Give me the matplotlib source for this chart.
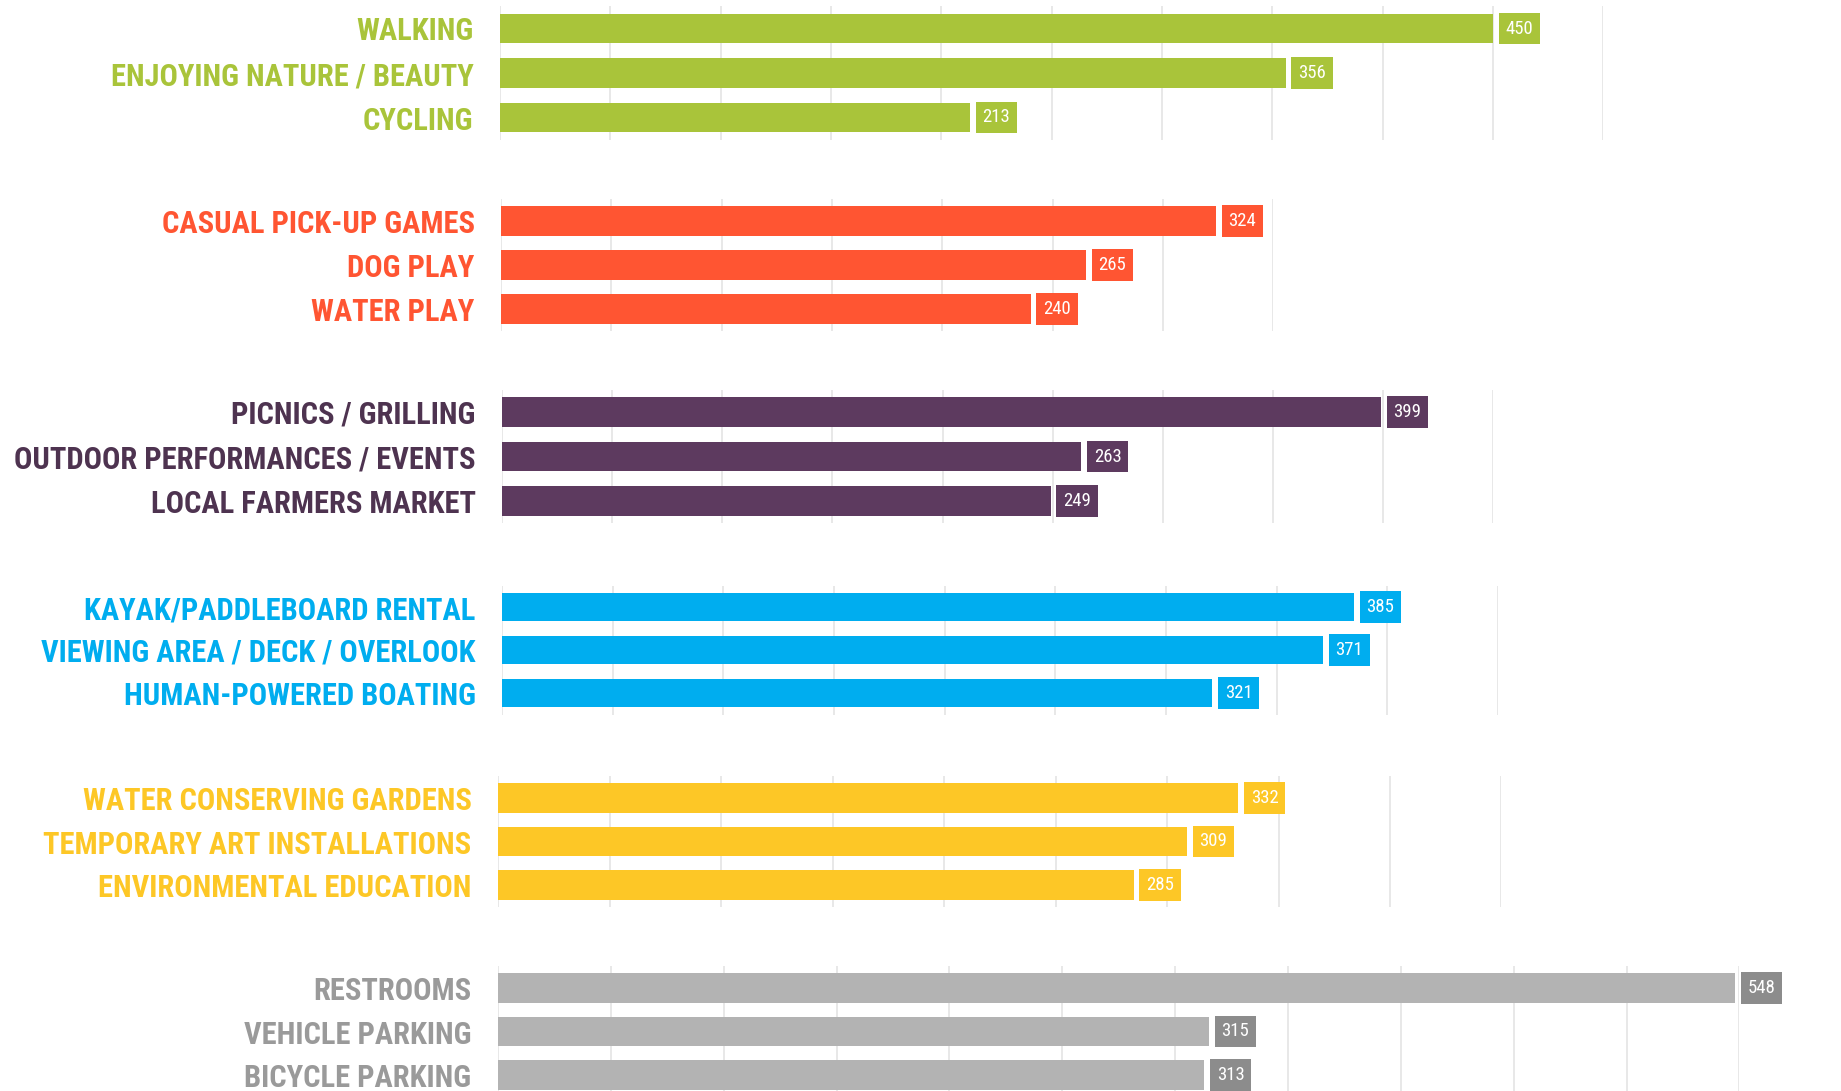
import numpy as np
import matplotlib
matplotlib.use("Agg")
import matplotlib.pyplot as plt
from matplotlib import font_manager

# survey answers, one list per group (top to bottom)
recreation_labels = ["WALKING", "ENJOYING NATURE / BEAUTY", "CYCLING"]
recreation_counts = [450, 356, 213]

play_labels = ["CASUAL PICK-UP GAMES", "DOG PLAY", "WATER PLAY"]
play_counts = [324, 265, 240]

social_labels = ["PICNICS / GRILLING", "OUTDOOR PERFORMANCES / EVENTS", "LOCAL FARMERS MARKET"]
social_counts = [399, 263, 249]

water_labels = ["KAYAK/PADDLEBOARD RENTAL", "VIEWING AREA / DECK / OVERLOOK", "HUMAN-POWERED BOATING"]
water_counts = [385, 371, 321]

culture_labels = ["WATER CONSERVING GARDENS", "TEMPORARY ART INSTALLATIONS", "ENVIRONMENTAL EDUCATION"]
culture_counts = [332, 309, 285]

amenity_labels = ["RESTROOMS", "VEHICLE PARKING", "BICYCLE PARKING"]
amenity_counts = [548, 315, 313]

group_labels = [recreation_labels, play_labels, social_labels, water_labels, culture_labels, amenity_labels]
group_counts = [recreation_counts, play_counts, social_counts, water_counts, culture_counts, amenity_counts]
grid_max = [500, 350, 450, 450, 450, 550]

# styling per group
bar_colors = ["#A9C43A", "#FF5532", "#5D3A5F", "#00ADEF", "#FDC726", "#B3B3B3"]
text_colors = ["#A9C43A", "#FF5532", "#4E3350", "#00ADEF", "#FDC726", "#9A9A9A"]
box_colors = ["#A9C43A", "#FF5532", "#5D3A5F", "#00ADEF", "#FDC726", "#8C8C8C"]

# layout in pixels (each group was its own little chart)
W, H = 1841, 1091
lefts = [500, 501, 502, 502, 498, 498]
px_per_unit = [2.207, 2.207, 2.203, 2.213, 2.23, 2.257]
first_center = [28.5, 221, 412, 607, 798, 988]
pitch = [44.5, 44, 44.5, 43, 43.5, 43.5]

# pick a narrow face if there is one
names = {f.name for f in font_manager.fontManager.ttflist}
font = "DejaVu Sans"
for cand in ["Roboto Condensed", "Open Sans Condensed", "Liberation Sans Narrow"]:
    if cand in names:
        font = cand
        break
plt.rcParams['font.family'] = [font, 'DejaVu Sans']
plt.rcParams['font.stretch'] = 'condensed'

fig = plt.figure(figsize=(W / 100, H / 100), dpi=100)
fig.patch.set_facecolor("white")

label_texts = []
for g in range(6):
    labels = group_labels[g]
    counts = group_counts[g]
    top = first_center[g] - pitch[g] / 2
    height = pitch[g] * 3
    width = grid_max[g] * px_per_unit[g]
    ax = fig.add_axes([lefts[g] / W, 1 - (top + height) / H, width / W, height / H])

    y = np.arange(len(labels))
    ax.barh(y, counts, height=0.67, color=bar_colors[g], zorder=2)
    ax.set_xlim(0, grid_max[g])
    ax.set_ylim(2.5, -0.5)

    # light vertical guides every 50
    ax.set_xticks(np.arange(0, grid_max[g] + 1, 50))
    ax.grid(axis='x', color="#E4E4E4", linewidth=1.2, zorder=0)
    ax.tick_params(axis='x', length=0, labelbottom=False)

    ax.set_yticks(y)
    ticklabels = ax.set_yticklabels(labels, fontsize=20, fontweight='bold', color=text_colors[g],
                                    va='center_baseline')
    label_texts.extend(ticklabels)
    ax.tick_params(axis='y', length=0, pad=19)

    for s in ax.spines.values():
        s.set_visible(False)

    for i, v in enumerate(counts):
        ax.annotate(str(v), xy=(v, i), xytext=(9, 0), textcoords='offset points',
                    ha='left', va='center', fontsize=13.5, color='white', zorder=3,
                    annotation_clip=False,
                    bbox=dict(boxstyle='square,pad=0.36', facecolor=box_colors[g],
                              edgecolor='none'))

# scale category labels so the longest one spans like in the original (~462 px)
fig.canvas.draw()
renderer = fig.canvas.get_renderer()
widest = max(t.get_window_extent(renderer).width for t in label_texts)
new_size = 20 * 462 / widest
for t in label_texts:
    t.set_fontsize(new_size)

fig.savefig("out.png", dpi=100, facecolor="white")
